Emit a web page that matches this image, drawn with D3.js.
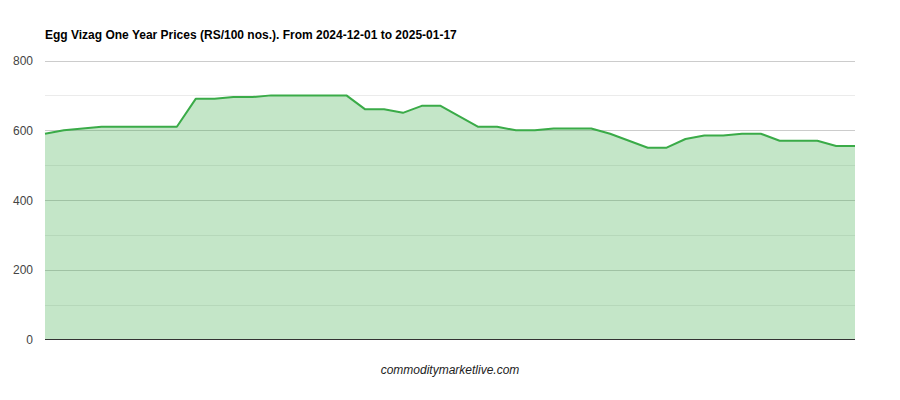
<!DOCTYPE html>
<html lang="en">
<head>
  <meta charset="UTF-8">
  <title>Egg Vizag One Year Prices</title>
  <script src="https://d3js.org/d3.v7.min.js"></script>
  <style>
    body { margin: 0; background: #fff; font-family: Arial, "Liberation Sans", sans-serif; }
    svg { display: block; }
  </style>
</head>
<body>
  <svg width="900" height="400"></svg>
  <script>
    // prices, one per trading day
    const prices = [590, 600, 605, 610, 610, 610, 610, 610, 690, 690, 695, 695,
                    700, 700, 700, 700, 700, 660, 660, 650, 670, 670, 640, 610,
                    610, 600, 600, 605, 605, 605, 590, 570, 550, 550, 575, 585,
                    585, 590, 590, 570, 570, 570, 555, 555];
    const yTicks = [0, 200, 400, 600, 800];
    const yMinor = [100, 300, 500, 700];
    const title = "Egg Vizag One Year Prices (RS/100 nos.). From 2024-12-01 to 2025-01-17";
    const footer = "commoditymarketlive.com";

    const svg = d3.select("svg");
    const margin = { left: 45, right: 45, top: 60.5, bottom: 60.5 };
    const width = 900, height = 400;

    const x = d3.scaleLinear()
      .domain([0, prices.length - 1])
      .range([margin.left, width - margin.right]);
    const y = d3.scaleLinear()
      .domain([0, 800])
      .range([height - margin.bottom, margin.top]);

    // title
    svg.append("text")
      .attr("x", 45).attr("y", 39)
      .style("font-size", "12px").style("font-weight", "bold")
      .attr("fill", "#000")
      .text(title);

    // gridlines
    svg.append("g").selectAll("line")
      .data(yMinor).join("line")
      .attr("x1", x.range()[0]).attr("x2", x.range()[1])
      .attr("y1", d => Math.round(y(d)) + 0.5).attr("y2", d => Math.round(y(d)) + 0.5)
      .attr("stroke", "#ebebeb");
    svg.append("g").selectAll("line")
      .data(yTicks.filter(d => d > 0)).join("line")
      .attr("x1", x.range()[0]).attr("x2", x.range()[1])
      .attr("y1", d => Math.round(y(d)) + 0.5).attr("y2", d => Math.round(y(d)) + 0.5)
      .attr("stroke", "#cccccc");

    // tick labels
    svg.append("g").selectAll("text")
      .data(yTicks).join("text")
      .attr("x", 33).attr("y", d => y(d) + 4.5)
      .attr("text-anchor", "end")
      .style("font-size", "12px")
      .attr("fill", "#444")
      .text(d => d);

    // area + line
    const area = d3.area()
      .x((d, i) => x(i))
      .y0(y(0))
      .y1(d => y(d));
    const line = d3.line()
      .x((d, i) => x(i))
      .y(d => y(d));

    svg.append("path")
      .datum(prices)
      .attr("d", area)
      .attr("fill", "#3aab48")
      .attr("fill-opacity", 0.3);

    svg.append("path")
      .datum(prices)
      .attr("d", line)
      .attr("fill", "none")
      .attr("stroke", "#3aab48")
      .attr("stroke-width", 2)
      .attr("stroke-linejoin", "round");

    // baseline
    svg.append("line")
      .attr("x1", x.range()[0]).attr("x2", x.range()[1])
      .attr("y1", y(0)).attr("y2", y(0))
      .attr("stroke", "#333").attr("stroke-width", 1);

    // source note
    svg.append("text")
      .attr("x", 450).attr("y", 374)
      .attr("text-anchor", "middle")
      .style("font-size", "12px").style("font-style", "italic")
      .attr("fill", "#222")
      .text(footer);
  </script>
</body>
</html>
